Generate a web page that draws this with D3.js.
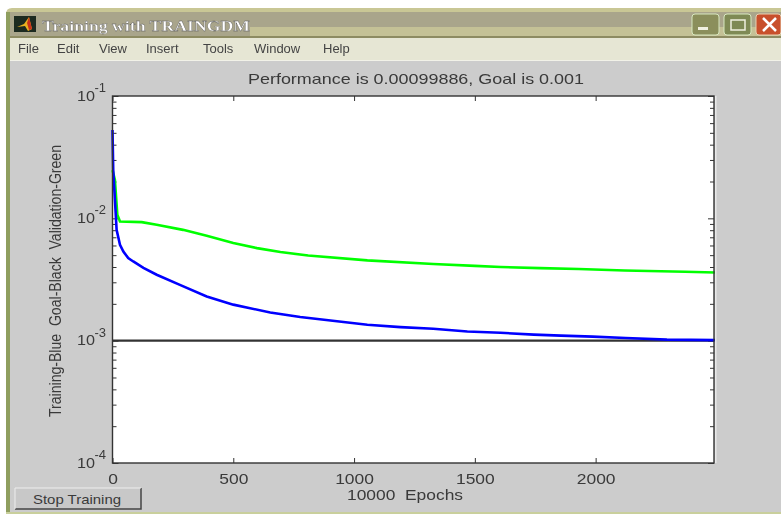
<!DOCTYPE html>
<html>
<head>
<meta charset="utf-8">
<title>Training with TRAINGDM</title>
<script src="https://cdn.jsdelivr.net/npm/d3@7"></script>
<style>
  html, body { margin: 0; padding: 0; background: #fff; }
  svg { display: block; font-family: "Liberation Sans", Arial, sans-serif; filter: blur(0.55px); }
  .axis path, .axis line { stroke: #333; }
  .axis text { fill: #3a3a3a; }
</style>
</head>
<body>
<svg id="chart" width="781" height="516"></svg>
<script>
const menuItems = ['File', 'Edit', 'View', 'Insert', 'Tools', 'Window', 'Help'];
const menuX = [18, 57, 99, 146, 203, 254, 323];

const xTicks = [0, 500, 1000, 1500, 2000];
const yDecades = [-1, -2, -3, -4];

const trainEpochs = [0, 3, 17, 31, 45, 65, 86, 128, 183, 279, 390, 500, 653, 777, 1055, 1192, 1328, 1469, 1606, 1744, 1856, 1988, 2125, 2295, 2494];
const trainPerf = [0.0527, 0.0249, 0.00805, 0.00608, 0.00536, 0.00473, 0.00444, 0.00394, 0.00346, 0.00286, 0.0023, 0.00197, 0.0017, 0.00156, 0.00135, 0.00129, 0.00125, 0.00119, 0.00116, 0.00112, 0.0011, 0.00108, 0.00105, 0.00102, 0.00101];

const valEpochs = [0, 10, 20, 31, 121, 183, 292, 390, 500, 598, 695, 810, 1055, 1328, 1500, 1607, 1770, 1930, 2120, 2370, 2494];
const valPerf = [0.0248, 0.0206, 0.0107, 0.00942, 0.00931, 0.00885, 0.00805, 0.0072, 0.00628, 0.00571, 0.0053, 0.00497, 0.00453, 0.00423, 0.00409, 0.004, 0.00392, 0.00385, 0.00375, 0.00366, 0.00361];

const goal = 0.001;

const svg = d3.select('#chart');

function box(x, y, w, h, fill) {
  return svg.append('rect').attr('x', x).attr('y', y).attr('width', w).attr('height', h).attr('fill', fill);
}

// window frame
svg.append('path').attr('d', 'M6 516V14Q6 8 12 8H781V516Z').attr('fill', '#c9c795');
box(10, 12, 771, 15, '#a9a58b');
box(10, 27, 240, 9, '#a9a58b');
box(250, 27, 531, 9, '#c4c196');
box(6, 36, 775, 2, '#8d8b62');
box(6, 12, 4, 504, '#8f9e5f');
box(10, 38, 771, 22, '#e6e6d4');
box(10, 60, 771, 452, '#cccccc');
box(10, 60, 771, 1, '#f2f2e8');
box(6, 512, 775, 2, '#c9cf9c');
box(6, 514, 775, 2, '#ffffff');

// matlab icon + title
box(14, 16, 22, 16, '#1c2a20');
svg.append('path').attr('d', 'M17 27L24 24L29 17L32 29L28 31L25 26Z').attr('fill', '#e8b020');
svg.append('path').attr('d', 'M29 17L32 29L29 30L27 23Z').attr('fill', '#c8301c');
svg.append('text').attr('x', 42).attr('y', 31).attr('font-size', 14.5).attr('font-weight', 'bold')
  .attr('font-family', '"Liberation Serif", serif').attr('textLength', 208).attr('lengthAdjust', 'spacingAndGlyphs')
  .attr('fill', '#fff').attr('stroke', '#555').attr('stroke-width', 0.3).text('Training with TRAINGDM');

// window buttons
[[692, '#8b8f5c'], [724, '#7f8a55']].forEach(([x, fill]) => {
  box(x, 14, 27, 21, fill).attr('rx', 3).attr('stroke', '#d8e8c0').attr('stroke-width', 1);
});
box(756, 14, 25, 21, '#c8502c').attr('rx', 3).attr('stroke', '#e8d0b0').attr('stroke-width', 1);
box(698, 27, 10, 3, '#f0f0e0');
svg.append('rect').attr('x', 731).attr('y', 20).attr('width', 14).attr('height', 10)
  .attr('fill', 'none').attr('stroke', '#f0f0e0').attr('stroke-width', 1.5);
svg.append('path').attr('d', 'M763 18L776 31M776 18L763 31').attr('stroke', '#fff').attr('stroke-width', 2.5);

// menu bar
svg.selectAll('.menu').data(menuItems).enter().append('text')
  .attr('class', 'menu')
  .attr('x', (d, i) => menuX[i]).attr('y', 53).attr('font-size', 13).attr('fill', '#444')
  .text(d => d);

const plot = { left: 112.5, right: 714, top: 96, bottom: 463 };

const x = d3.scaleLinear().domain([0, 2490]).range([plot.left, plot.right]);
const y = d3.scaleLog().domain([1e-4, 1e-1]).range([plot.bottom, plot.top]);

box(plot.left, plot.top, plot.right - plot.left, plot.bottom - plot.top, '#fff');

// minor log ticks, both sides
const allY = y.ticks();
const isMajor = v => Math.abs(Math.log10(v) - Math.round(Math.log10(v))) < 1e-6;
const minorY = allY.filter(v => !isMajor(v));

function yAxis(side, gen, size, vals) {
  const g = svg.append('g').attr('class', 'axis').attr('transform', `translate(${side},0)`)
    .call(gen(y).tickValues(vals).tickSize(size).tickFormat(''));
  g.select('.domain').remove();
}
yAxis(plot.left, d3.axisRight, 4, minorY);
yAxis(plot.right, d3.axisLeft, 4, minorY);
yAxis(plot.left, d3.axisRight, 6, yDecades.map(e => Math.pow(10, e)));
yAxis(plot.right, d3.axisLeft, 6, yDecades.map(e => Math.pow(10, e)));

// x ticks bottom and top, labels on bottom
const xBottom = svg.append('g').attr('class', 'axis').attr('transform', `translate(0,${plot.bottom})`)
  .call(d3.axisBottom(x).tickValues(xTicks).tickSize(-5).tickPadding(11).tickFormat(d3.format('d')));
xBottom.select('.domain').remove();
xBottom.selectAll('text')
  .attr('font-size', 14.5).attr('font-family', '"Liberation Sans", Arial, sans-serif')
  .attr('textLength', d => String(d).length * 9.7).attr('lengthAdjust', 'spacingAndGlyphs');
const xTop = svg.append('g').attr('class', 'axis').attr('transform', `translate(0,${plot.top})`)
  .call(d3.axisTop(x).tickValues(xTicks).tickSize(-5).tickFormat(''));
xTop.select('.domain').remove();

// y labels with exponents
const yLab = svg.selectAll('.ylab').data(yDecades).enter().append('g').attr('class', 'ylab')
  .attr('transform', d => `translate(${plot.left - 5},${y(Math.pow(10, d))})`);
yLab.append('text').attr('x', -12.5).attr('y', 4.5).attr('text-anchor', 'end')
  .attr('font-size', 15).attr('fill', '#3a3a3a').attr('textLength', 18).attr('lengthAdjust', 'spacingAndGlyphs').text('10');
yLab.append('text').attr('x', -13).attr('y', -4).attr('text-anchor', 'start')
  .attr('font-size', 13).attr('fill', '#3a3a3a').text(d => d);

// goal, validation, training
const line = d3.line().x(d => x(d[0])).y(d => y(d[1]));
const drawLine = (xs, ys, color, w) => svg.append('path')
  .attr('d', line(xs.map((e, i) => [e, ys[i]])))
  .attr('fill', 'none').attr('stroke', color).attr('stroke-width', w);

svg.append('line').attr('x1', x(0)).attr('x2', plot.right).attr('y1', y(goal)).attr('y2', y(goal))
  .attr('stroke', '#333').attr('stroke-width', 2.4);
drawLine(valEpochs, valPerf, '#00ff00', 2.6);
drawLine(trainEpochs, trainPerf, '#0000ff', 2.6);

// plot border
svg.append('rect').attr('x', plot.left).attr('y', plot.top)
  .attr('width', plot.right - plot.left).attr('height', plot.bottom - plot.top)
  .attr('fill', 'none').attr('stroke', '#333').attr('stroke-width', 1.4);
box(plot.right + 1, plot.top, 1.5, plot.bottom - plot.top, '#e8e8e8');

// titles
svg.append('text').attr('x', 248).attr('y', 84).attr('font-size', 14.5).attr('fill', '#3a3a3a')
  .attr('textLength', 336).attr('lengthAdjust', 'spacingAndGlyphs')
  .text('Performance is 0.00099886, Goal is 0.001');
svg.append('text').attr('x', 347).attr('y', 499.5).attr('font-size', 14.5).attr('fill', '#3a3a3a')
  .attr('textLength', 116).attr('lengthAdjust', 'spacingAndGlyphs')
  .attr('xml:space', 'preserve').text('10000  Epochs');
svg.append('text').attr('transform', 'translate(61,417) rotate(-90)')
  .attr('font-size', 16).attr('fill', '#3a3a3a')
  .attr('textLength', 272).attr('lengthAdjust', 'spacingAndGlyphs')
  .attr('xml:space', 'preserve').text('Training-Blue  Goal-Black  Validation-Green');

// stop button
box(15, 488, 126, 21, '#c8c8c8');
svg.append('path').attr('d', 'M15 509H141V488').attr('fill', 'none').attr('stroke', '#444').attr('stroke-width', 1.5);
svg.append('path').attr('d', 'M15 509V488H141').attr('fill', 'none').attr('stroke', '#eee').attr('stroke-width', 1);
svg.append('text').attr('x', 33).attr('y', 504).attr('font-size', 13.5).attr('fill', '#3a3a3a')
  .attr('textLength', 88).attr('lengthAdjust', 'spacingAndGlyphs').text('Stop Training');
</script>
</body>
</html>
